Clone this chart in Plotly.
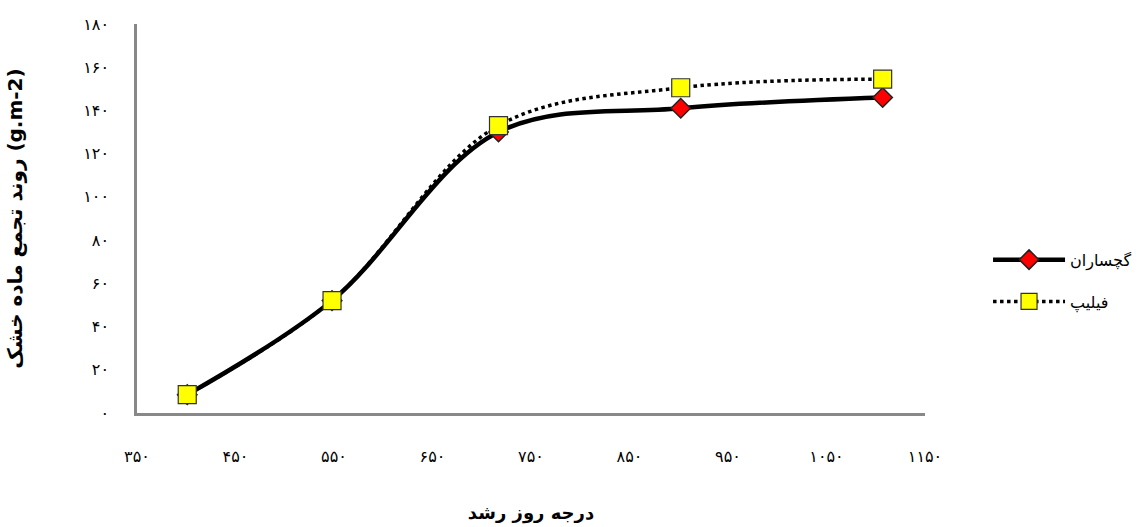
import plotly.graph_objects as go

x_gach = [401, 548, 717, 902, 1107]
y_gach = [8.5, 52, 130, 141, 146]
x_phil = [401, 548, 717, 902, 1107]
y_phil = [8.5, 52, 133, 150.5, 154.5]

fa = str.maketrans("0123456789", "۰۱۲۳۴۵۶۷۸۹")
x_ticks = list(range(350, 1151, 100))
y_ticks = list(range(0, 181, 20))
x_ticktext = [str(v).translate(fa) for v in x_ticks]
y_ticktext = [str(v).translate(fa) for v in y_ticks]

name_gach = "گچساران"
name_phil = "فیلیپ"
x_title = "درجه روز رشد"
y_title = "روند تجمع ماده خشک (g.m-2)"

font_fam = "DejaVu Sans, Noto Sans, sans-serif"

fig = go.Figure()
fig.add_trace(go.Scatter(
    x=x_gach, y=y_gach, name=name_gach, mode="lines+markers",
    line=dict(color="black", width=4.5, shape="spline", smoothing=1.0),
    marker=dict(symbol="diamond", size=15, color="#ff0000",
                line=dict(color="#222222", width=1.5)),
    legendgroup="a",
))
fig.add_trace(go.Scatter(
    x=x_phil, y=y_phil, name=name_phil, mode="lines+markers",
    line=dict(color="black", width=3.5, dash="dot", shape="spline", smoothing=1.0),
    marker=dict(symbol="square", size=18, color="#ffff00",
                line=dict(color="#333333", width=1.2)),
    legendgroup="b",
))

fig.update_layout(
    width=1139, height=527,
    paper_bgcolor="white", plot_bgcolor="white",
    margin=dict(l=137, r=214, t=24, b=114, autoexpand=False),
    font=dict(family=font_fam, size=16, color="black"),
    showlegend=True,
    legend=dict(x=1.08, y=0.34, xanchor="left", yanchor="middle",
                font=dict(size=16), tracegroupgap=18, itemwidth=72,
                traceorder="grouped", bgcolor="rgba(0,0,0,0)"),
    xaxis=dict(range=[350, 1150], tickvals=x_ticks, ticktext=x_ticktext,
               showgrid=False, zeroline=False, showline=True,
               linecolor="#888888", linewidth=2.5,
               ticks="outside", ticklen=27, tickcolor="rgba(0,0,0,0)",
               automargin=False,
               title=dict(text="<b>" + x_title + "</b>", font=dict(size=18), standoff=42)),
    yaxis=dict(range=[0, 180], tickvals=y_ticks, ticktext=y_ticktext,
               showgrid=False, zeroline=False, showline=True,
               linecolor="#888888", linewidth=2.5,
               ticks="outside", ticklen=22, tickcolor="rgba(0,0,0,0)",
               automargin=False,
               title=dict(text="<b>" + y_title + "</b>", font=dict(size=20), standoff=56)),
)

fig.write_html("out.html", config={"displayModeBar": False},
               post_script="document.body.style.margin='0';")
